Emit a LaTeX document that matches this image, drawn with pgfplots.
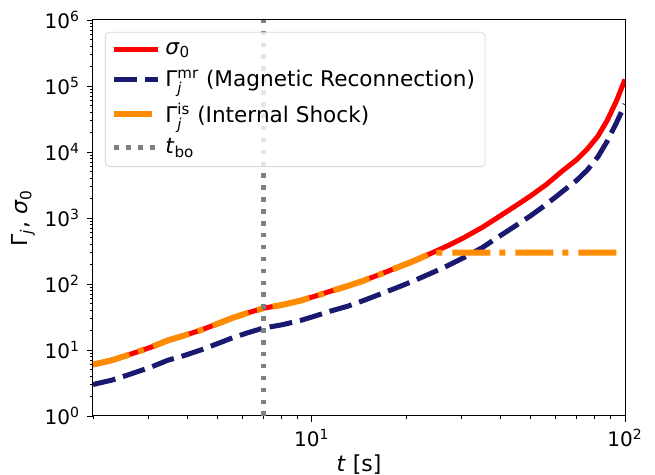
\documentclass[border=0pt]{standalone}
\usepackage{fontspec}
\setmainfont{DejaVu Sans}
\usepackage{pgfplots}
\pgfplotsset{compat=1.18}
\usepackage{pgfplotstable}
\definecolor{mrblue}{RGB}{25,25,112}
\definecolor{isorange}{RGB}{255,140,0}
\definecolor{bogray}{RGB}{128,128,128}

\pgfplotstableread{
t sigma
2 6.0
2.3 7.0
2.59 8.4
3.06 11
3.47 14
3.9 16.5
4.42 20
5.0 25
5.62 31
6.3 37
7.0 43
8.0 48
9.2 56
10.3 66
11.5 78
13 93
14.6 112
16.5 140
18.7 177
21 220
23.9 288
27 375
30.5 500
35 720
39 1000
44 1450
49.8 2140
56 3200
63 5130
70 7600
75.7 11000
82 17500
87.7 30000
94 60000
100 126000
}\sigmatab

\pgfplotstableread{
t gmr
2 3.0
2.3 3.5
2.59 4.2
3.06 5.5
3.47 7.0
3.9 8.2
4.42 10
5.0 12.5
5.62 15.5
6.3 18.5
7.0 21.5
8.0 24
9.2 28
10.3 33
11.5 39
13 46
14.6 56
16.5 70
18.7 88
21 110
23.9 144
27 187
30.5 250
35 355
39 500
44 725
49.8 1070
56 1600
63 2500
70 3700
75.7 5300
82 8500
87.7 14500
94 28000
100 53000
}\mrtab

\pgfplotstableread{
t gis
2 6.0
2.3 7.0
2.59 8.4
3.06 11
3.47 14
3.9 16.5
4.42 20
5.0 25
5.62 31
6.3 37
7.0 43
8.0 48
9.2 56
10.3 66
11.5 78
13 93
14.6 112
16.5 140
18.7 177
21 220
23.9 288
25 300
100 300
}\istab

\begin{document}
\begin{tikzpicture}
\begin{axis}[
  at={(0,0)}, anchor=south west,
  scale only axis,
  width=266pt, height=198pt,
  xmode=log, ymode=log,
  xmin=2, xmax=100, ymin=1, ymax=1e6,
  xtick={10,100},
  xticklabels={10\textsuperscript{1},10\textsuperscript{2}},
  ytick={1,10,100,1000,10000,100000,1000000},
  yticklabels={10\textsuperscript{0},10\textsuperscript{1},10\textsuperscript{2},10\textsuperscript{3},10\textsuperscript{4},10\textsuperscript{5},10\textsuperscript{6}},
  minor xtick={2,3,4,5,6,7,8,9,20,30,40,50,60,70,80,90},
  minor ytick={2,3,4,5,6,7,8,9,20,30,40,50,60,70,80,90,200,300,400,500,600,700,800,900,2000,3000,4000,5000,6000,7000,8000,9000,20000,30000,40000,50000,60000,70000,80000,90000,200000,300000,400000,500000,600000,700000,800000,900000},
  tick align=outside,
  xtick pos=bottom, ytick pos=left,
  major tick length=3pt, minor tick length=1.7pt,
  every tick/.style={black, line width=0.45pt},
  axis line style={line width=0.5pt},
  tick label style={font=\fontsize{10pt}{12pt}\selectfont},
  label style={font=\fontsize{11pt}{13pt}\selectfont},
  xlabel={\textit{t} [s]},
  ylabel={Γ\textsubscript{\textit{j}}, \textit{σ}\textsubscript{0}},
  xlabel style={yshift=3pt},
  ylabel style={yshift=-2pt},
  legend style={at={(0.0225,0.97)}, anchor=north west,
    draw=black!15, rounded corners=2pt, fill=white, fill opacity=0.8, text opacity=1,
    font=\fontsize{10.8pt}{12.5pt}\selectfont, row sep=2.6pt, inner xsep=3pt, inner ysep=3pt},
  legend cell align=left,
  legend image code/.code={\draw[#1] (0pt,0pt) -- (22pt,0pt);},
]
\addplot[red, line width=2.5pt] table[x=t,y=sigma] {\sigmatab};
\addlegendentry{\textit{σ}\textsubscript{0}}
\addplot[mrblue, line width=2.5pt, dash pattern=on 11.5pt off 4pt] table[x=t,y=gmr] {\mrtab};
\addlegendentry{Γ$^{\mbox{\fontsize{7.5pt}{8pt}\selectfont mr}}_{\mbox{\fontsize{7.5pt}{8pt}\selectfont\itshape j}}$ (Magnetic Reconnection)}
\addplot[isorange, line width=3pt, dash pattern=on 19pt off 4.5pt on 3pt off 5pt] table[x=t,y=gis] {\istab};
\addlegendentry{Γ$^{\mbox{\fontsize{7.5pt}{8pt}\selectfont is}}_{\mbox{\fontsize{7.5pt}{8pt}\selectfont\itshape j}}$ (Internal Shock)}
\addplot[bogray, line width=2.25pt, dash pattern=on 2.25pt off 3.7pt] coordinates {(7,1) (7,1e6)};
\addlegendentry{\textit{t}\textsubscript{bo}}
\end{axis}
\pgfresetboundingbox
\path[use as bounding box] (-46.5pt,-29.5pt) rectangle (281pt,208pt);
\end{tikzpicture}
\end{document}
